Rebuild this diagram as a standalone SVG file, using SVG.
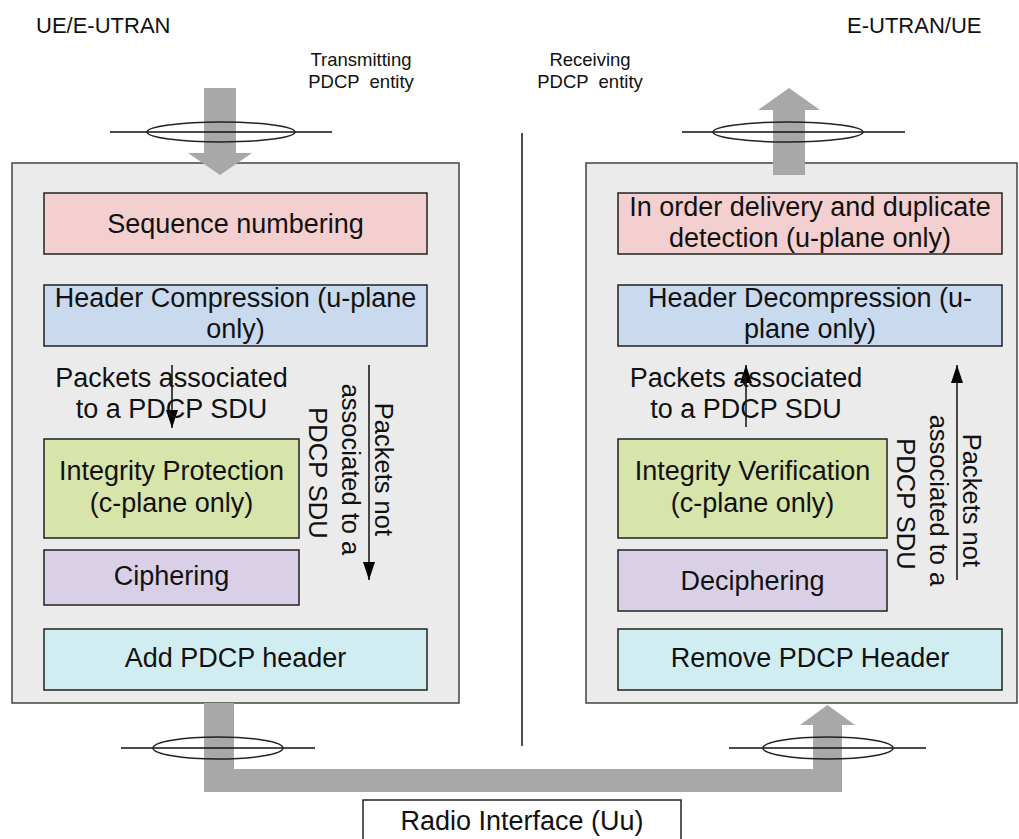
<svg xmlns="http://www.w3.org/2000/svg" width="1019" height="839" viewBox="0 0 1019 839">
<defs>
<style>
text{font-family:"Liberation Sans",Arial,sans-serif;fill:#111}
.box{stroke:#222;stroke-width:1.5}
.bt{font-size:27px;text-anchor:middle}
.lbl{font-size:18.5px;text-anchor:middle}
.ttl{font-size:22px}
.rot{font-size:25.5px;text-anchor:middle}
.cont{fill:#ebebeb;stroke:#444;stroke-width:1.5}
.flow{fill:#a8a8a8}
.thin{stroke:#111;stroke-width:1.5;fill:none}
.ring{fill:none;stroke:#222;stroke-width:1.5}
</style>
<marker id="ah" markerWidth="18" markerHeight="12" refX="18" refY="6" orient="auto" markerUnits="userSpaceOnUse" viewBox="0 0 18 12">
<path d="M0,0 L18,6 L0,12 Z" fill="#000"/>
</marker>
</defs>
<rect width="1019" height="839" fill="#fff"/>

<text class="ttl" x="36" y="33">UE/E-UTRAN</text>
<text class="ttl" x="847" y="33">E-UTRAN/UE</text>
<text class="lbl" x="361" y="66">Transmitting</text>
<text class="lbl" x="361" y="88" xml:space="preserve">PDCP  entity</text>
<text class="lbl" x="590" y="66">Receiving</text>
<text class="lbl" x="590" y="88" xml:space="preserve">PDCP  entity</text>

<line x1="522" y1="133" x2="522" y2="746" stroke="#111" stroke-width="1.5"/>

<g id="tx-entity">
<rect class="cont" x="12" y="163" width="447" height="540"/>
</g>
<g id="rx-entity">
<rect class="cont" x="586" y="163" width="431" height="540"/>
</g>

<g id="connectors">
<path class="flow" d="M204,88 H236 V153 H252 L220,175 L188,153 H204 Z"/>
<path class="flow" d="M773,175 H805 V110 H820 L789,88 L758,110 H773 Z"/>
<path class="flow" d="M204,703 H234 V769 H813 V725 H800 L827.5,705 L855,725 H842 V792 H204 Z"/>
<line class="thin" x1="110" y1="132" x2="332" y2="132"/>
<ellipse class="ring" cx="221" cy="132" rx="74" ry="10"/>
<line class="thin" x1="682" y1="132" x2="905" y2="132"/>
<ellipse class="ring" cx="788" cy="132" rx="75" ry="10"/>
<line class="thin" x1="121" y1="748" x2="315" y2="748"/>
<ellipse class="ring" cx="218" cy="748" rx="65" ry="11"/>
<line class="thin" x1="729" y1="748" x2="926" y2="748"/>
<ellipse class="ring" cx="828" cy="748" rx="65" ry="11"/>
<line class="thin" x1="172" y1="365" x2="172" y2="428" marker-end="url(#ah)"/>
<line class="thin" x1="369" y1="365" x2="369" y2="580" marker-end="url(#ah)"/>
<line class="thin" x1="746" y1="427" x2="746" y2="365" marker-end="url(#ah)"/>
<line class="thin" x1="957" y1="580" x2="957" y2="365" marker-end="url(#ah)"/>
</g>

<g id="seq">
<rect class="box" x="44" y="193" width="383" height="61" fill="#f3cfcf"/>
<text class="bt" x="235.5" y="233">Sequence numbering</text>
</g>
<g id="hc">
<rect class="box" x="44" y="285" width="383" height="61" fill="#c9d9ee"/>
<text class="bt" x="235.5" y="307">Header Compression (u-plane</text>
<text class="bt" x="235.5" y="338">only)</text>
</g>
<g id="ip">
<rect class="box" x="44" y="439" width="255" height="99" fill="#d7e4aa"/>
<text class="bt" x="171.5" y="480">Integrity Protection</text>
<text class="bt" x="171.5" y="512">(c-plane only)</text>
</g>
<g id="ciph">
<rect class="box" x="44" y="550" width="255" height="55" fill="#d9d0e7"/>
<text class="bt" x="171.5" y="585">Ciphering</text>
</g>
<g id="addhdr">
<rect class="box" x="44" y="629" width="383" height="61" fill="#d0eef2"/>
<text class="bt" x="235.5" y="667">Add PDCP header</text>
</g>

<g id="tx-labels">
<text class="bt" x="171.5" y="387">Packets associated</text>
<text class="bt" x="171.5" y="418">to a PDCP SDU</text>
<text class="rot" transform="translate(375,473) rotate(90)">
<tspan x="0" y="0">Packets not</tspan>
<tspan x="0" y="33">associated to a</tspan>
<tspan x="0" y="66">PDCP SDU</tspan>
</text>
</g>

<g id="inorder">
<rect class="box" x="618" y="193" width="384" height="61" fill="#f3cfcf"/>
<text class="bt" x="810" y="216">In order delivery and duplicate</text>
<text class="bt" x="810" y="247">detection (u-plane only)</text>
</g>
<g id="hd">
<rect class="box" x="618" y="285" width="384" height="61" fill="#c9d9ee"/>
<text class="bt" x="810" y="307">Header Decompression (u-</text>
<text class="bt" x="810" y="338">plane only)</text>
</g>
<g id="iv">
<rect class="box" x="618" y="439" width="269" height="99" fill="#d7e4aa"/>
<text class="bt" x="752.5" y="480">Integrity Verification</text>
<text class="bt" x="752.5" y="512">(c-plane only)</text>
</g>
<g id="deciph">
<rect class="box" x="618" y="550" width="269" height="61" fill="#d9d0e7"/>
<text class="bt" x="752.5" y="590">Deciphering</text>
</g>
<g id="rmhdr">
<rect class="box" x="618" y="629" width="384" height="61" fill="#d0eef2"/>
<text class="bt" x="810" y="667">Remove PDCP Header</text>
</g>

<g id="rx-labels">
<text class="bt" x="746" y="387">Packets associated</text>
<text class="bt" x="746" y="418">to a PDCP SDU</text>
<text class="rot" transform="translate(963,504) rotate(90)">
<tspan x="0" y="0">Packets not</tspan>
<tspan x="0" y="33">associated to a</tspan>
<tspan x="0" y="66">PDCP SDU</tspan>
</text>
</g>

<g id="radio">
<rect x="363" y="800" width="318" height="50" fill="#fff" stroke="#222" stroke-width="1.5"/>
<text class="bt" x="522" y="830">Radio Interface (Uu)</text>
</g>
</svg>
